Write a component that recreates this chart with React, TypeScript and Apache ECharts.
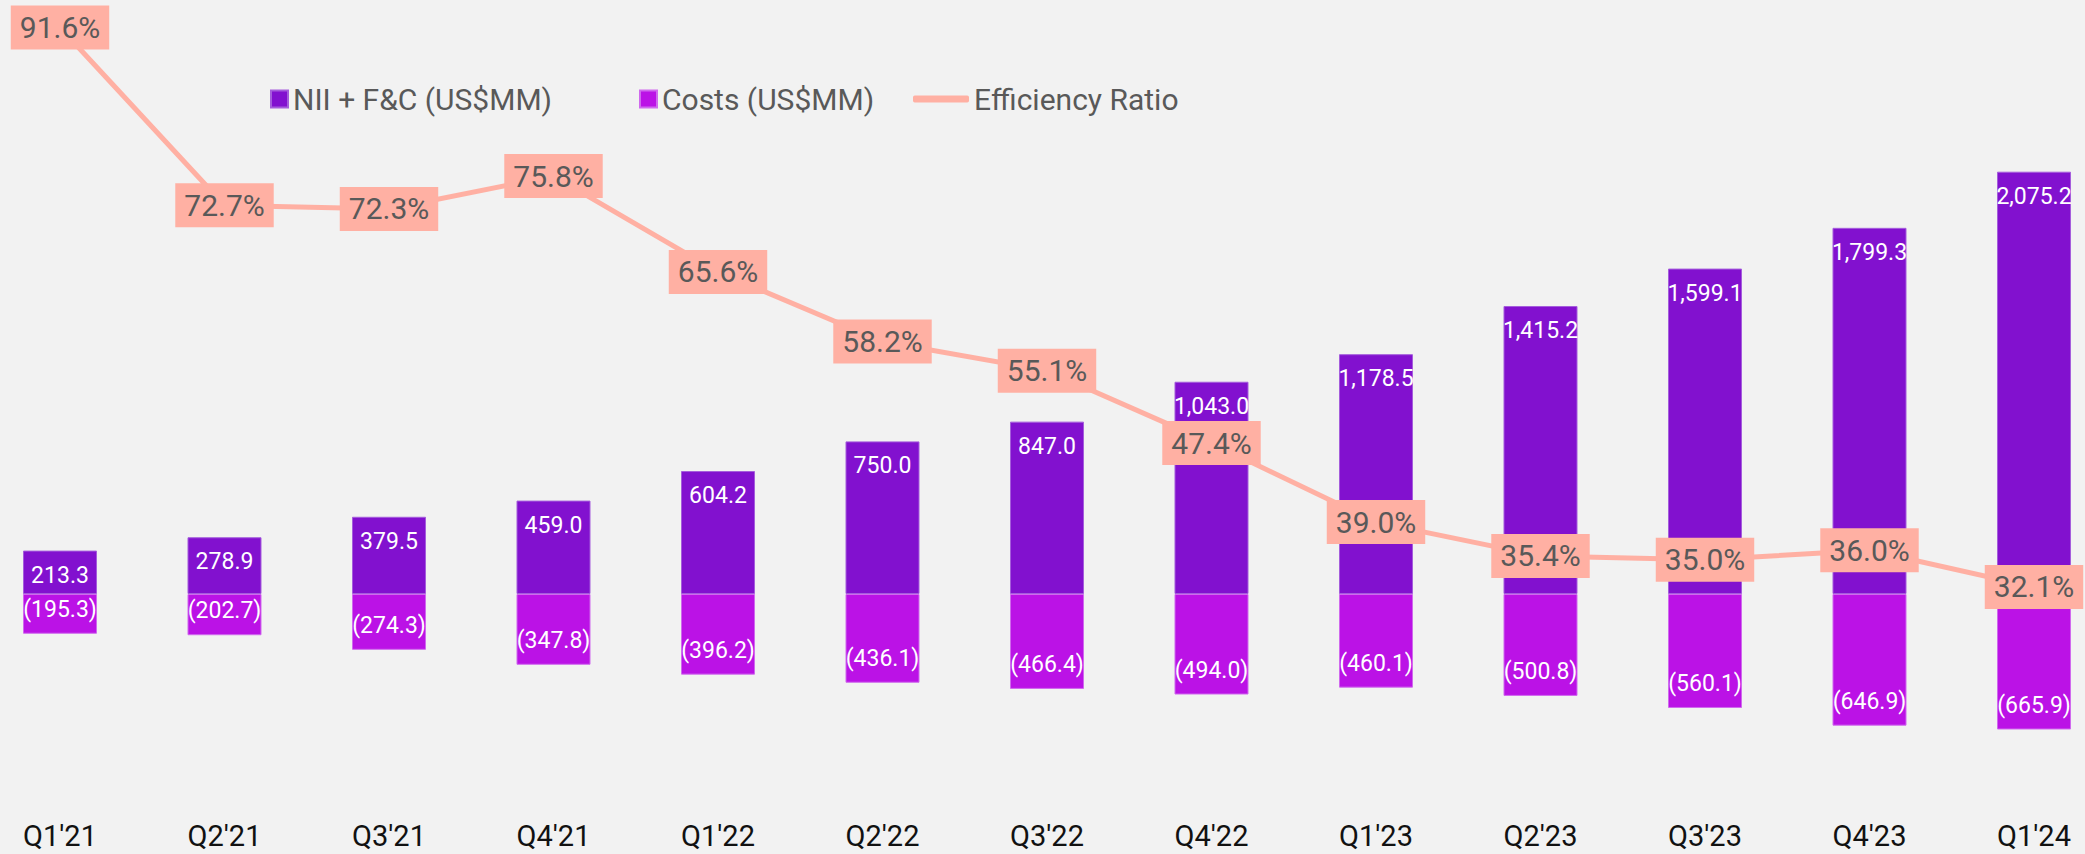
import React, { useEffect, useRef } from "react";
import * as echarts from "echarts";

const categories = ["Q1'21", "Q2'21", "Q3'21", "Q4'21", "Q1'22", "Q2'22", "Q3'22", "Q4'22", "Q1'23", "Q2'23", "Q3'23", "Q4'23", "Q1'24"];
const niiValues = [213.3, 278.9, 379.5, 459.0, 604.2, 750.0, 847.0, 1043.0, 1178.5, 1415.2, 1599.1, 1799.3, 2075.2];
const costValues = [-195.3, -202.7, -274.3, -347.8, -396.2, -436.1, -466.4, -494.0, -460.1, -500.8, -560.1, -646.9, -665.9];
const ratioValues = [91.6, 72.7, 72.3, 75.8, 65.6, 58.2, 55.1, 47.4, 39.0, 35.4, 35.0, 36.0, 32.1];

const NII_NAME = "NII + F&C (US$MM)";
const COST_NAME = "Costs (US$MM)";
const RATIO_NAME = "Efficiency Ratio";

const FONT = "Roboto, 'Noto Sans', sans-serif";
const fmt = (v: number) =>
  Math.abs(v).toLocaleString("en-US", { minimumFractionDigits: 1, maximumFractionDigits: 1 });

export default function App() {
  const ref = useRef<HTMLDivElement>(null);
  useEffect(() => {
    if (!ref.current) return;
    const chart = echarts.init(ref.current, null, { renderer: "svg" });
    const legendText = { fontSize: 30, color: "#595959", fontFamily: FONT };
    chart.setOption({
      animation: false,
      backgroundColor: "#F2F2F2",
      textStyle: { fontFamily: FONT },
      legend: [
        {
          data: [NII_NAME], left: 265, top: 79, icon: "rect", itemWidth: 17, itemHeight: 17,
          textStyle: legendText, selectedMode: false,
        },
        {
          data: [COST_NAME], left: 634, top: 79, icon: "rect", itemWidth: 17, itemHeight: 17,
          textStyle: legendText, selectedMode: false,
        },
        {
          data: [RATIO_NAME], left: 908, top: 79, icon: "roundRect", itemWidth: 56, itemHeight: 7,
          textStyle: legendText, selectedMode: false,
        },
      ],
      grid: {
        left: -22.25, width: 2138.5, top: 85.25, height: 712.25,
        containLabel: false, outerBoundsMode: "none",
      },
      xAxis: {
        type: "category",
        data: categories,
        axisLine: { show: false, onZero: false },
        axisTick: { show: false },
        axisLabel: { interval: 0, margin: 24, fontSize: 29, color: "#111111", fontFamily: FONT },
        splitLine: { show: false },
      },
      yAxis: [
        { type: "value", min: -1000, max: 2500, show: false, splitLine: { show: false } },
        { type: "value", min: 9.711, max: 85.458, show: false, splitLine: { show: false } },
      ],
      series: [
        {
          name: NII_NAME,
          type: "bar",
          stack: "total",
          data: niiValues,
          barWidth: 74,
          itemStyle: { color: "#8211CF", borderColor: "#A55DDC", borderWidth: 1 },
          label: {
            show: true,
            position: "insideTop",
            distance: 13,
            color: "#FFFFFF",
            fontSize: 23,
            fontFamily: FONT,
            formatter: (p: any) => fmt(p.value),
          },
          z: 2,
        },
        {
          name: COST_NAME,
          type: "bar",
          stack: "total",
          data: costValues,
          barWidth: 74,
          itemStyle: { color: "#BB12E6", borderColor: "#D069EE", borderWidth: 1 },
          label: {
            show: true,
            position: "insideBottom",
            distance: 13,
            color: "#FFFFFF",
            fontSize: 23,
            fontFamily: FONT,
            formatter: (p: any) => "(" + fmt(p.value) + ")",
          },
          z: 2,
        },
        {
          name: RATIO_NAME,
          type: "line",
          yAxisIndex: 1,
          data: ratioValues,
          color: "#FFB0A3",
          lineStyle: { width: 5, color: "#FFB0A3" },
          symbol: "circle",
          symbolSize: 2,
          clip: false,
          z: 10,
          label: {
            show: true,
            position: "inside",
            backgroundColor: "#FFB0A3",
            padding: [7, 9],
            fontSize: 30,
            lineHeight: 30,
            color: "#595959",
            fontFamily: FONT,
            formatter: (p: any) => p.value.toFixed(1) + "%",
          },
        },
      ],
    });
    return () => chart.dispose();
  }, []);
  return (
    <div
      ref={ref}
      style={{ position: "absolute", left: 0, top: 0, width: 2085, height: 854 }}
    />
  );
}
